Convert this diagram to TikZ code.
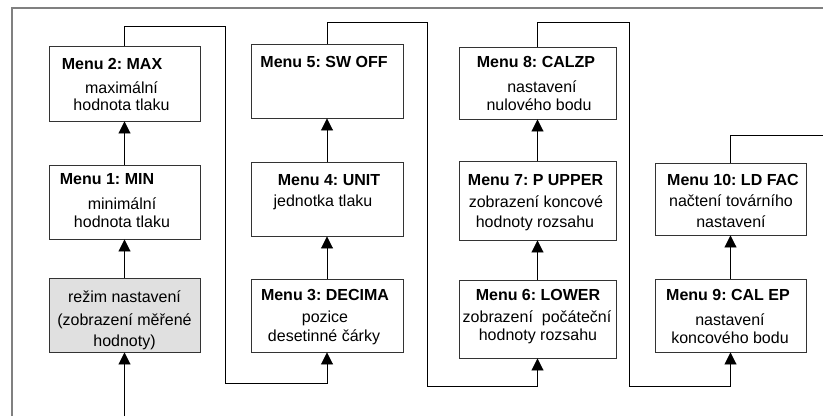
\documentclass[tikz,border=0pt]{standalone}
\usepackage{fontspec}
\setmainfont{Liberation Sans}
\usetikzlibrary{arrows.meta,fit}
\frenchspacing
\begin{document}
\begin{tikzpicture}[x=1pt,y=-1pt,
  box/.style={draw=black!80,line width=0.9pt,inner sep=0pt},
  grey/.style={fill=black!12},
  ttl/.style={font=\fontsize{16}{19}\selectfont\bfseries\frenchspacing,anchor=base,inner sep=0pt},
  txt/.style={font=\fontsize{16}{19}\selectfont\frenchspacing,anchor=base,inner sep=0pt},
  conn/.style={draw=black,line width=0.9pt},
  arr/.style={conn,-{Triangle[length=12pt,width=12pt]}},
  frame/.style={draw=black!50,line width=2pt}]
\useasboundingbox (0,0) rectangle (823,416);
\draw[frame] (11.5,416) -- (11.5,7.5) -- (823,7.5);
% column 1
\node[box,fit={(49,46) (200,121)}] (m2) {};
\node[box,fit={(49,165) (200,239)}] (m1) {};
\node[box,grey,fit={(49,278) (200,352)}] (reg) {};
\node[ttl] (m2a) at (112,69) {Menu 2: MAX};
\node[txt] (m2b) at (121.5,93) {maximální};
\node[txt] (m2c) at (121.5,110.5) {hodnota tlaku};
\node[ttl] (m1a) at (107,184) {Menu 1: MIN};
\node[txt] (m1b) at (122,209) {minimální};
\node[txt] (m1c) at (122,227) {hodnota tlaku};
\node[txt] (rga) at (124.5,302) {režim nastavení};
\node[txt] (rgb) at (124.5,325) {(zobrazení měřené};
\node[txt] (rgc) at (124.5,346) {hodnoty)};
% column 2
\node[box,fit={(251,44) (403,118)}] (m5) {};
\node[box,fit={(251,162) (403,236)}] (m4) {};
\node[box,fit={(251,279) (403,352)}] (m3) {};
\node[ttl] (m5a) at (324,67) {Menu 5: SW OFF};
\node[ttl] (m4a) at (329,185) {Menu 4: UNIT};
\node[txt] (m4b) at (323,206) {jednotka tlaku};
\node[ttl] (m3a) at (325,300) {Menu 3: DECIMA};
\node[txt] (m3b) at (325,322) {pozice};
\node[txt] (m3c) at (324,341) {desetinné čárky};
% column 3
\node[box,fit={(459,47) (616,119)}] (m8) {};
\node[box,fit={(459,161) (616,240)}] (m7) {};
\node[box,fit={(459,280) (616,358)}] (m6) {};
\node[ttl] (m8a) at (536,67) {Menu 8: CALZP};
\node[txt] (m8b) at (542,92) {nastavení};
\node[txt] (m8c) at (539,110) {nulového bodu};
\node[ttl] (m7a) at (535.5,185) {Menu 7: P UPPER};
\node[txt] (m7b) at (536,207) {zobrazení koncové};
\node[txt] (m7c) at (535,227) {hodnoty rozsahu};
\node[ttl] (m6a) at (538,300) {Menu 6: LOWER};
\node[txt] (m6b) at (537,322) {zobrazení\ \ počáteční};
\node[txt] (m6c) at (538,340) {hodnoty rozsahu};
% column 4
\node[box,fit={(655,163) (806,235)}] (m10) {};
\node[box,fit={(655,279) (806,352)}] (m9) {};
\node[ttl] (m10a) at (733,185) {Menu 10: LD FAC};
\node[txt] (m10b) at (731,206) {načtení továrního};
\node[txt] (m10c) at (731,227) {nastavení};
\node[ttl] (m9a) at (728,300) {Menu 9: CAL EP};
\node[txt] (m9b) at (730,325) {nastavení};
\node[txt] (m9c) at (730,343) {koncového bodu};
% connectors
\coordinate (start) at (124.5,416);
\coordinate (end) at (823,135);
\draw[arr] (start) -- (reg.south);
\draw[arr] (reg.north) -- (m1.south);
\draw[arr] (m1.north) -- (m2.south);
\draw[arr] (m2.north) -- (124.5,26) -- (225,26) -- (225,383) -- (327,383) -- (m3.south);
\draw[arr] (m3.north) -- (m4.south);
\draw[arr] (m4.north) -- (m5.south);
\draw[arr] (m5.north) -- (327,22) -- (427,22) -- (427,386) -- (537.5,386) -- (m6.south);
\draw[arr] (m6.north) -- (m7.south);
\draw[arr] (m7.north) -- (m8.south);
\draw[arr] (m8.north) -- (537.5,22) -- (629,22) -- (629,386) -- (730.5,386) -- (m9.south);
\draw[arr] (m9.north) -- (m10.south);
\draw[conn] (m10.north) -- (730.5,135) -- (end);
\end{tikzpicture}
\end{document}
